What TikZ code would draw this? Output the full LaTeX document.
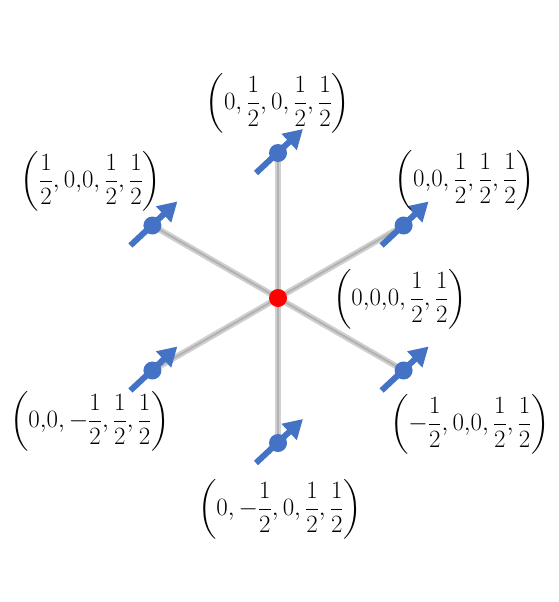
\documentclass[tikz,border=0pt]{standalone}
\usepackage{amsmath}
\usetikzlibrary{arrows.meta}
\definecolor{spinblue}{RGB}{68,114,196}
\definecolor{lineouter}{RGB}{208,208,208}
\definecolor{lineinner}{RGB}{178,178,178}
\tikzset{
  bond/.style={line width=6pt, draw=lineouter},
  bondcore/.style={line width=2pt, draw=lineinner},
  site/.style={circle, fill=spinblue, minimum size=18pt, inner sep=0pt},
  centre/.style={circle, fill=red, minimum size=18pt, inner sep=0pt},
  spin/.style={draw=spinblue, line width=6pt, -{Triangle[length=19pt,width=21pt]}},
  lab/.style={inner sep=0pt, font=\fontsize{25}{30}\selectfont}
}
\newcommand{\hf}{\dfrac{1}{2}}
\begin{document}
\begin{tikzpicture}[x=1pt,y=-1pt]
\useasboundingbox (0,0) rectangle (559,602);
\coordinate (c) at (278,298);
\coordinate (pT) at (278,153);
\coordinate (pB) at (278,443);
\coordinate (pUL) at (152.4,225.5);
\coordinate (pUR) at (403.6,225.5);
\coordinate (pLL) at (152.4,370.5);
\coordinate (pLR) at (403.6,370.5);
\foreach \p in {pT,pB,pUL,pUR,pLL,pLR} {
  \draw[bond] (c) -- (\p);
}
\foreach \p in {pT,pB,pUL,pUR,pLL,pLR} {
  \draw[bondcore] (c) -- (\p);
}
\node[centre] (C) at (c) {};
\foreach \p in {pT,pB,pUL,pUR,pLL,pLR} {
  \node[site] (s\p) at (\p) {};
  \coordinate (t\p) at ([shift={(-22,20)}]\p);
  \coordinate (h\p) at ([shift={(25,-24)}]\p);
  \draw[spin] (t\p) -- (h\p);
}
\node[lab] (lT) at (278,103) {$\left(0,\hf,0,\hf,\hf\right)$};
\node[lab] (lUL) at (91,181) {$\left(\hf,0{,}0,\hf,\hf\right)$};
\node[lab] (lUR) at (465,180) {$\left(0{,}0,\hf,\hf,\hf\right)$};
\node[lab] (lC) at (400,299) {$\left(0{,}0{,}0,\hf,\hf\right)$};
\node[lab] (lLL) at (90,421) {$\left(0{,}0,-\hf,\hf,\hf\right)$};
\node[lab] (lLR) at (470,424) {$\left(-\hf,0{,}0,\hf,\hf\right)$};
\node[lab] (lB) at (280,509) {$\left(0,-\hf,0,\hf,\hf\right)$};
\end{tikzpicture}
\end{document}
